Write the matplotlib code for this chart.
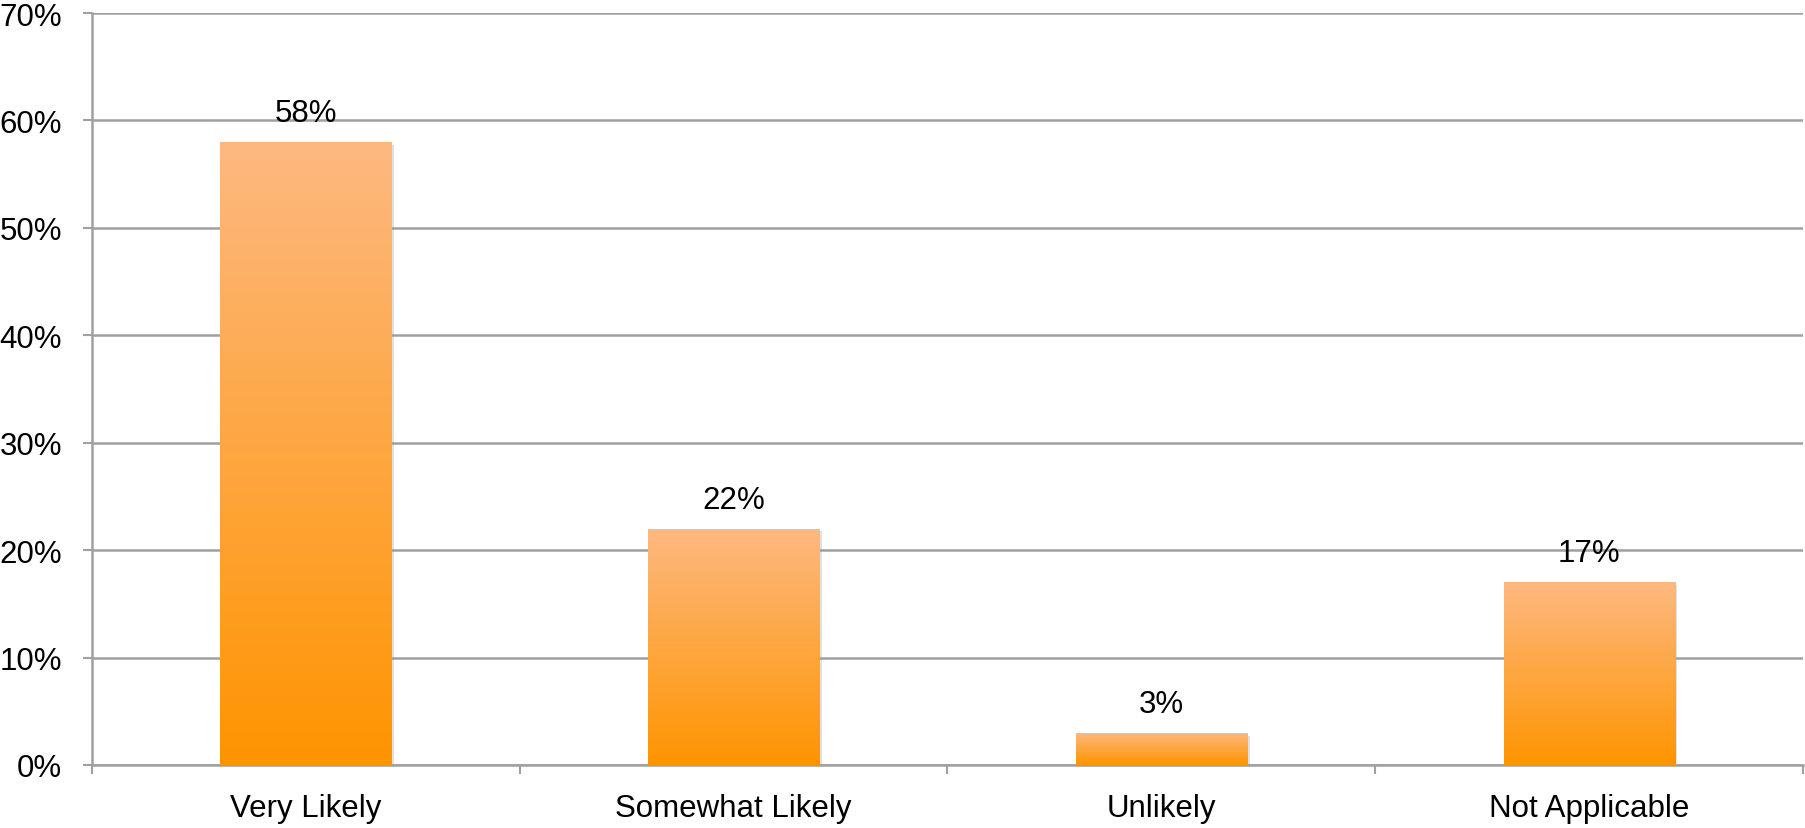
import matplotlib
matplotlib.use("Agg")
import matplotlib.pyplot as plt
import matplotlib.patheffects as pe
from matplotlib.colors import LinearSegmentedColormap
from matplotlib.ticker import FuncFormatter, FixedLocator
import numpy as np

categories = ["Very Likely", "Somewhat Likely", "Unlikely", "Not Applicable"]
values = [58, 22, 3, 17]
value_labels = ["58%", "22%", "3%", "17%"]
y_ticks = [0, 10, 20, 30, 40, 50, 60, 70]

plt.rcParams['font.family'] = ['Liberation Sans', 'DejaVu Sans']

fig = plt.figure(figsize=(18.06, 8.29), dpi=100)
ax = fig.add_axes([0.0509, 0.076, 0.9474, 0.9071])

grid_color = "#a0a0a0"
cmap = LinearSegmentedColormap.from_list("og", ["#ff9400", "#fdb981"])
FS = 22.5

x = np.arange(len(categories))
width = 0.40
bars = ax.bar(x, values, width=width, color="#ffa640", zorder=3,
              path_effects=[pe.SimplePatchShadow(offset=(2, -2), shadow_rgbFace="#999999", alpha=0.3), pe.Normal()])

grad = np.linspace(0, 1, 256).reshape(-1, 1)
for b in bars:
    x0 = b.get_x()
    h = b.get_height()
    im = ax.imshow(grad, cmap=cmap, origin="lower", aspect="auto",
                   extent=[x0, x0 + b.get_width(), 0, h], zorder=4, interpolation="bicubic")
    im.set_clip_path(b)

for xi, v, lab in zip(x, values, value_labels):
    ax.annotate(lab, (xi, v), xytext=(0, 10), textcoords="offset points",
                ha="center", va="bottom", fontsize=FS, color="black", zorder=5)

ax.set_xlim(-0.5, len(categories) - 0.5)
ax.set_ylim(0, 70)
ax.yaxis.set_major_locator(FixedLocator(y_ticks))
ax.yaxis.set_major_formatter(FuncFormatter(lambda v, p: f"{int(v)}%"))
ax.grid(axis="y", color=grid_color, linewidth=1.8, zorder=0)
ax.set_axisbelow(True)

ax.set_xticks(x)
ax.set_xticklabels(categories, fontsize=FS)
ax.tick_params(axis="x", which="major", length=0, pad=20)
ax.set_xticks(np.arange(len(categories) + 1) - 0.5, minor=True)
ax.tick_params(axis="x", which="minor", length=6.5, width=1.5, color=grid_color, direction="out")
ax.tick_params(axis="y", length=6.5, width=1.5, color=grid_color, labelsize=FS, pad=15)

for s in ["top", "right"]:
    ax.spines[s].set_visible(False)
for s in ["left", "bottom"]:
    ax.spines[s].set_color(grid_color)
    ax.spines[s].set_linewidth(1.8)

fig.savefig("out.png", dpi=100)
